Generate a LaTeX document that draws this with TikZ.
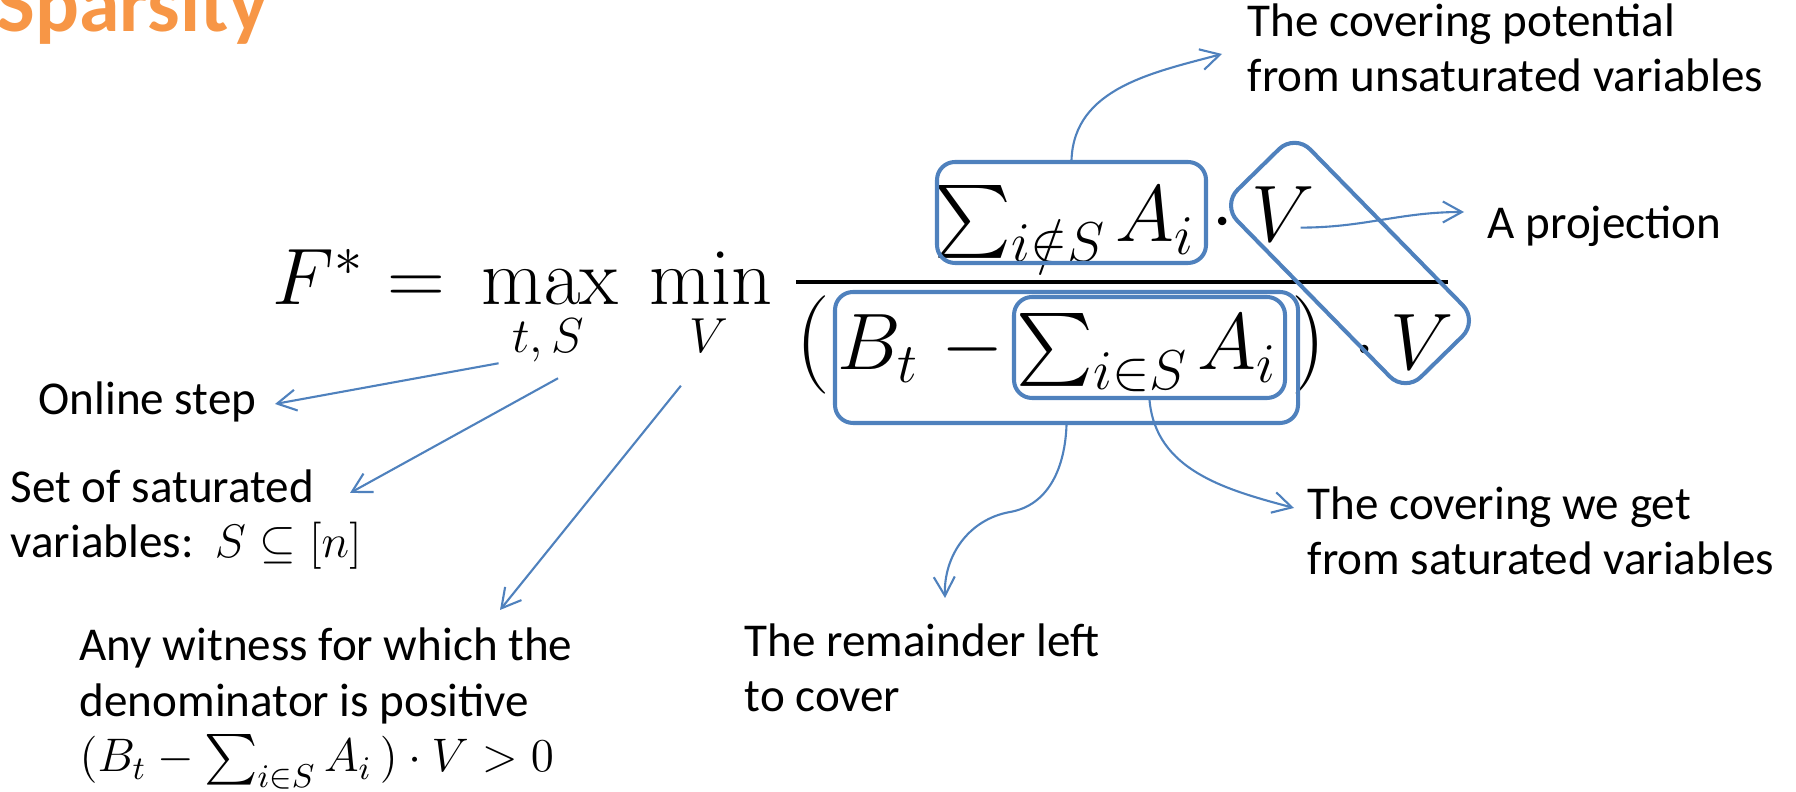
\documentclass[tikz,border=0pt]{standalone}
\usepackage{fix-cm}
\usepackage{exscale}
\usepackage[no-math]{fontspec}
\setmainfont{Carlito}
\usetikzlibrary{arrows.meta}
\definecolor{hlblue}{HTML}{4F81BD}
\definecolor{titleorange}{HTML}{F79646}

\begin{document}
\begin{tikzpicture}[
  note/.style={font=\fontsize{13.4}{15.8}\selectfont, align=left, inner sep=0pt, anchor=base west},
  formula/.style={font=\fontsize{22.8}{27}\selectfont, inner sep=0pt, anchor=base west},
  paren/.style={formula, font=\fontsize{28}{32}\selectfont},
  limits/.style={font=\fontsize{14}{17}\selectfont, inner sep=0pt, anchor=base},
  hilite/.style={draw=hlblue, line width=1.15pt, rounded corners=0.18cm, inner sep=0pt},
  pointer/.style={hlblue, line width=0.6pt, -{Straight Barb[length=1.9mm,width=2.1mm]}},
]

\useasboundingbox (0,0) rectangle (17.96,-7.92);

% Title
\node[font=\fontsize{23.3}{28}\selectfont\bfseries, text=titleorange, inner sep=0pt, anchor=base west] (title) at (-0.04,-0.32) {Sparsity};

% F* = max min
\node[formula] (fstar) at (2.72,-3.05) {$F^{*}$};
\node[formula] (eq) at (3.87,-3.05) {$=$};
\node[formula, anchor=base] (max) at (5.50,-3.05) {$\max$};
\node[formula, anchor=base] (min) at (7.11,-3.05) {$\min$};
\node[limits] (ts) at (5.48,-3.53) {$t,S$};
\node[limits] (vsub) at (7.09,-3.53) {$V$};

% Fraction bar
\draw[line width=1.3pt] (7.96,-2.82) -- (14.48,-2.82);

% Numerator
\node[formula] (sumout) at (9.34,-2.42) {$\sum_{i\notin S}\mkern-1mu A_i$};
\node[formula, anchor=base] (dotnum) at (12.23,-2.42) {$\cdot$};
\node[formula] (vnum) at (12.51,-2.42) {$V$};

% Denominator
\node[paren] (lparen) at (7.95,-3.70) {$($};
\node[formula] (bt) at (8.37,-3.70) {$B_t$};
\node[formula, anchor=base] (minus) at (9.725,-3.70) {$-$};
\node[formula] (sumin) at (10.16,-3.70) {$\sum_{i\in S}\mkern-1mu A_i$};
\node[paren] (rparen) at (12.91,-3.70) {$)$};
\node[formula, anchor=base] (dotden) at (13.65,-3.70) {$\cdot$};
\node[formula] (vden) at (13.90,-3.70) {$V$};

% Boxes
\node[hilite, minimum width=2.69cm, minimum height=1.01cm] (numbox) at (10.715,-2.125) {};
\node[hilite, minimum width=4.63cm, minimum height=1.31cm] (outerbox) at (10.665,-3.575) {};
\node[hilite, minimum width=2.71cm, minimum height=1.01cm] (innerbox) at (11.495,-3.475) {};
\node[hilite, rotate=-45.6, minimum width=2.62cm, minimum height=1.02cm, rounded corners=0.22cm] (vbox) at (13.50,-2.63) {};

% Labels (base = last line)
\node[note] (potential) at (12.47,-0.92) {The covering potential\\from unsaturated variables};
\node[note] (projection) at (14.87,-2.39) {A projection};
\node[note] (online) at (0.38,-4.15) {Online step};
\node[note] (saturated) at (0.10,-5.58) {Set of saturated\\variables:\ \ $S\subseteq[n]$};
\node[note] (witness) at (0.79,-7.72) {Any witness for which the\\denominator is positive\\$(B_t-\smash{\sum_{i\in S}}\,A_i\,)\cdot V>0$};
\node[note] (remainder) at (7.44,-7.12) {The remainder left\\to cover};
\node[note] (covering) at (13.07,-5.75) {The covering we get\\from saturated variables};

% Arrow ends
\coordinate (pottip) at (12.22,-0.54);
\coordinate (projtip) at (14.64,-2.12);
\coordinate (onlinetip) at (2.75,-4.04);
\coordinate (sattip) at (3.50,-4.93);
\coordinate (wittip) at (5.00,-6.10);
\coordinate (remmid) at (10.10,-5.12);
\coordinate (remtip) at (9.45,-5.98);
\coordinate (covtip) at (12.94,-5.08);

% Arrows
\draw[pointer] (numbox.north) to[out=88,in=195] (pottip);
\draw[pointer] ([shift={(-0.15,-0.13)}]vnum.east) to[out=0,in=180] (projtip);
\draw[pointer] ([xshift=-0.13cm]ts.south west) -- (onlinetip);
\draw[pointer] ([shift={(0.1,-0.15)}]ts.south) -- (sattip);
\draw[pointer] ([shift={(-0.08,-0.32)}]vsub.south west) -- (wittip);
\draw[pointer] (outerbox.south) to[out=-92,in=10] (remmid) to[out=190,in=92] (remtip);
\draw[pointer] (innerbox.south) to[out=-85,in=165] (covtip);

\end{tikzpicture}
\end{document}
